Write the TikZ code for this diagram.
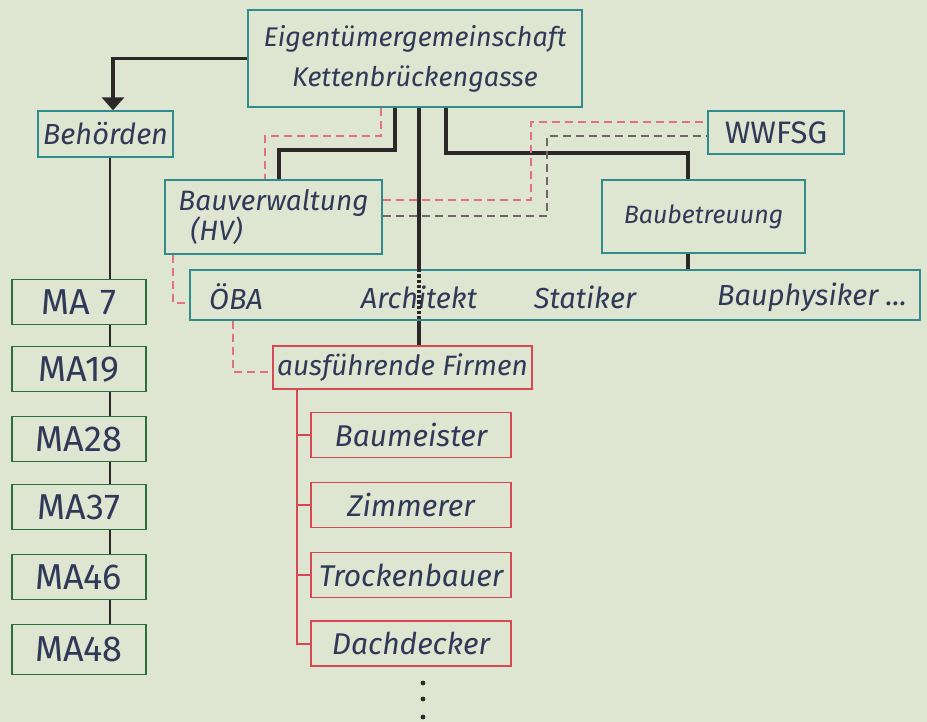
\documentclass[tikz,border=0pt]{standalone}
\usepackage{fontspec}
\setmainfont{Fira Sans}
\usetikzlibrary{arrows.meta}

\definecolor{paper}{RGB}{222,229,208}
\definecolor{ink}{RGB}{48,58,88}
\definecolor{boxteal}{RGB}{48,140,140}
\definecolor{boxgreen}{RGB}{42,112,58}
\definecolor{boxred}{RGB}{214,72,84}
\definecolor{linkpink}{RGB}{226,112,132}
\definecolor{linkgray}{RGB}{112,102,102}
\definecolor{linedark}{RGB}{45,40,40}

\begin{document}
\begin{tikzpicture}[x=1pt, y=-1pt,
    box/.style={draw, line width=1.4pt, inner sep=0pt, text=ink},
    tealbox/.style={box, draw=boxteal},
    greenbox/.style={box, draw=boxgreen, minimum width=134pt, minimum height=45pt,
        font=\fontsize{36}{38}\selectfont},
    redbox/.style={box, draw=boxred, minimum height=45pt,
        font=\itshape\fontsize{30}{32}\selectfont},
    label/.style={text=ink, inner sep=0pt, font=\itshape\fontsize{29}{32}\selectfont},
    conn/.style={draw=linedark, line width=3.2pt},
    thinconn/.style={draw=linedark, line width=1.4pt},
    redconn/.style={draw=boxred, line width=2pt},
    pinklink/.style={draw=linkpink, line width=1.5pt, dash pattern=on 8pt off 5pt},
    graylink/.style={draw=linkgray, line width=1.5pt, dash pattern=on 8pt off 5pt}]

    \fill[paper] (0,0) rectangle (927,722);

    % upper level
    \node[tealbox, minimum width=334pt, minimum height=97pt, align=center,
        font=\itshape\fontsize{27}{40}\selectfont] (owner) at (415,58.5)
        {Eigentümergemeinschaft\\Kettenbrückengasse};
    \node[tealbox, minimum width=135pt, minimum height=46pt,
        font=\itshape\fontsize{29}{30}\selectfont] (behoerden) at (105.5,134) {Behörden};
    \node[tealbox, minimum width=217pt, minimum height=74pt, align=left,
        font=\itshape\fontsize{28}{28}\selectfont] (hv) at (273.5,217)
        {Bauverwaltung\\\hspace*{12pt}(HV)};
    \node[tealbox, minimum width=136pt, minimum height=43pt,
        font=\fontsize{31}{32}\selectfont] (wwfsg) at (776,132.5) {WWFSG};
    \node[tealbox, minimum width=203pt, minimum height=73pt,
        font=\itshape\fontsize{25}{28}\selectfont] (baubetr) at (703.5,216.5) {Baubetreuung};

    % planning row
    \node[tealbox, minimum width=730pt, minimum height=50pt] (planning) at (555,295) {};
    \node[label] (oeba) at (236,297) {ÖBA};
    \node[label] (architekt) at (419,297) {Architekt};
    \node[label] (statiker) at (585,297) {Statiker};
    \node[label] (bauphysiker) at (812,297) {Bauphysiker ...};

    % firms
    \node[redbox, minimum width=259pt, minimum height=43pt,
        font=\itshape\fontsize{28}{30}\selectfont] (firmen) at (402.5,367.5)
        {ausführende Firmen};
    \node[redbox, minimum width=200pt] (baumeister) at (411,435) {Baumeister};
    \node[redbox, minimum width=200pt] (zimmerer) at (411,505) {Zimmerer};
    \node[redbox, minimum width=200pt] (trockenbauer) at (411,575) {Trockenbauer};
    \node[redbox, minimum width=200pt] (dachdecker) at (411,643.5) {Dachdecker};

    % authorities
    \node[greenbox] (ma7) at (79,302) {MA 7};
    \node[greenbox] (ma19) at (79,369) {MA19};
    \node[greenbox] (ma28) at (79,439) {MA28};
    \node[greenbox] (ma37) at (79,507) {MA37};
    \node[greenbox] (ma46) at (79,577) {MA46};
    \node[greenbox, minimum height=50pt] (ma48) at (79,649.5) {MA48};

    % solid connectors
    \draw[conn, -{Triangle[width=22pt, length=13pt]}] (owner.west)
        -| ([xshift=7.5pt]behoerden.north);
    \draw[conn] (395,0 |- owner.south) -- (395,150) -| (279,0 |- hv.north);
    \draw[conn] (446,0 |- owner.south) -- (446,153) -| (688,0 |- baubetr.north);
    \draw[conn] (688,0 |- baubetr.south) -- (688,0 |- planning.north);
    \draw[conn] (419,0 |- owner.south) -- (419,0 |- planning.north);
    \draw[conn, dotted] (419,0 |- planning.north) -- (419,0 |- planning.south);
    \draw[conn] (419,0 |- planning.south) -- (419,0 |- firmen.north);

    \draw[thinconn] (110,0 |- behoerden.south) -- (110,0 |- ma7.north);
    \foreach \a/\b in {ma7/ma19, ma19/ma28, ma28/ma37, ma37/ma46, ma46/ma48}
        \draw[thinconn] (110,0 |- \a.south) -- (110,0 |- \b.north);

    \draw[redconn] (297,0 |- firmen.south) |- (dachdecker.west);
    \foreach \f in {baumeister, zimmerer, trockenbauer}
        \draw[redconn] (297,0 |- \f.west) -- (\f.west);

    % dashed links
    \draw[pinklink] (381,0 |- owner.south) -- (381,136) -| (265,0 |- hv.north);
    \draw[pinklink] (hv.east |- 0,200) -- (531,200) |- (wwfsg.west |- 0,122);
    \draw[graylink] (hv.east |- 0,216) -- (547,216) |- (wwfsg.west |- 0,136);
    \draw[pinklink] (173,0 |- hv.south) |- (planning.west |- 0,303);
    \draw[pinklink] (233,0 |- planning.south) |- (firmen.west |- 0,372);

    % more firms
    \foreach \y in {683,699,717}
        \fill[linedark] (423,\y) circle (2.4pt);
\end{tikzpicture}
\end{document}
